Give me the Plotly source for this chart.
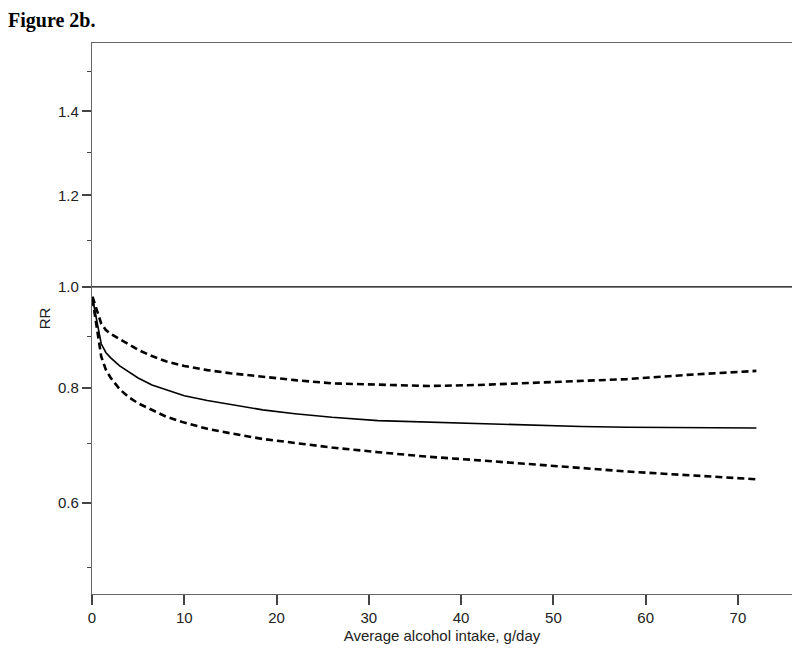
import numpy as np
import plotly.graph_objects as go

# ---- data ----
alcohol_g_day = [0.05, 0.5, 1, 1.5, 2, 3, 4, 5, 6.5, 8, 10, 12.5, 15, 18.5, 22, 26,
                 31, 36.5, 42, 47.5, 53, 58, 64.5, 72]
rr_estimate = [0.977, 0.935, 0.885, 0.868, 0.858, 0.842, 0.830, 0.819, 0.806, 0.797,
               0.786, 0.777, 0.770, 0.760, 0.753, 0.7465, 0.7405, 0.7377, 0.7345,
               0.7316, 0.730, 0.7288, 0.728, 0.7275]
rr_upper = [0.980, 0.955, 0.925, 0.912, 0.905, 0.894, 0.883, 0.873, 0.861, 0.851,
            0.842, 0.834, 0.828, 0.821, 0.815, 0.809, 0.806, 0.804, 0.806, 0.810,
            0.814, 0.817, 0.825, 0.8325]
rr_lower = [0.975, 0.915, 0.860, 0.835, 0.820, 0.798, 0.783, 0.772, 0.760, 0.748,
            0.737, 0.726, 0.718, 0.708, 0.701, 0.693, 0.685, 0.677, 0.671, 0.665,
            0.658, 0.652, 0.646, 0.639]
reference_rr = 1.0

x_ticks = [0, 10, 20, 30, 40, 50, 60, 70]
y_major = [0.6, 0.8, 1.0, 1.2, 1.4]
y_major_labels = ["0.6", "0.8", "1.0", "1.2", "1.4"]
y_minor = [0.5, 0.7, 0.9, 1.1, 1.3, 1.5]
x_range = [0, 75.86]
y_range = [0.462, 1.5737]

# y axis of the original is square-root scaled
def tr(v):
    return list(np.sqrt(np.asarray(v, dtype=float)))

fig = go.Figure()
fig.add_trace(go.Scatter(x=alcohol_g_day, y=tr(rr_upper), mode="lines",
                         line=dict(color="black", width=2.6, dash="7px,4px"),
                         showlegend=False))
fig.add_trace(go.Scatter(x=alcohol_g_day, y=tr(rr_lower), mode="lines",
                         line=dict(color="black", width=2.6, dash="7px,4px"),
                         showlegend=False))
fig.add_trace(go.Scatter(x=alcohol_g_day, y=tr(rr_estimate), mode="lines",
                         line=dict(color="black", width=1.6),
                         showlegend=False))

fig.add_shape(type="line", xref="paper", x0=0, x1=1, yref="y",
              y0=float(np.sqrt(reference_rr)), y1=float(np.sqrt(reference_rr)),
              line=dict(color="black", width=1.2))

axis_font = dict(family="Liberation Sans, Arial, sans-serif", size=15, color="#222")

# page body has an 8px margin; figure sized to fit the window
W, H = 792, 651
fig.update_layout(
    width=W, height=H,
    margin=dict(l=84, r=8, t=35, b=65),
    paper_bgcolor="white", plot_bgcolor="white",
    title=dict(text="<b>Figure 2b.</b>", xref="container", yref="container",
               x=0, xanchor="left", y=1 - 12 / H, yanchor="middle",
               pad=dict(l=0, t=0, b=0, r=0),
               font=dict(family="Liberation Serif, Times New Roman, serif",
                         size=20, color="black")),
    xaxis=dict(range=x_range, tickmode="array", tickvals=x_ticks,
               ticks="outside", ticklen=10, tickwidth=1.5, tickcolor="#444",
               showline=True, linecolor="#666", linewidth=1.3, mirror=True,
               showgrid=False, zeroline=False, tickfont=axis_font,
               title=dict(text="Average alcohol intake, g/day", font=axis_font,
                          standoff=5)),
    yaxis=dict(range=tr(y_range), tickmode="array", tickvals=tr(y_major),
               ticktext=y_major_labels,
               ticks="outside", ticklen=9, tickwidth=1.5, tickcolor="#444",
               minor=dict(tickmode="array", tickvals=tr(y_minor), ticks="outside",
                          ticklen=4, tickwidth=1.3, tickcolor="#444", showgrid=False),
               showline=True, linecolor="#666", linewidth=1.3, mirror=True,
               showgrid=False, zeroline=False, tickfont=axis_font,
               title=dict(text="RR", font=axis_font, standoff=3)),
)

fig.write_html("out.html")
